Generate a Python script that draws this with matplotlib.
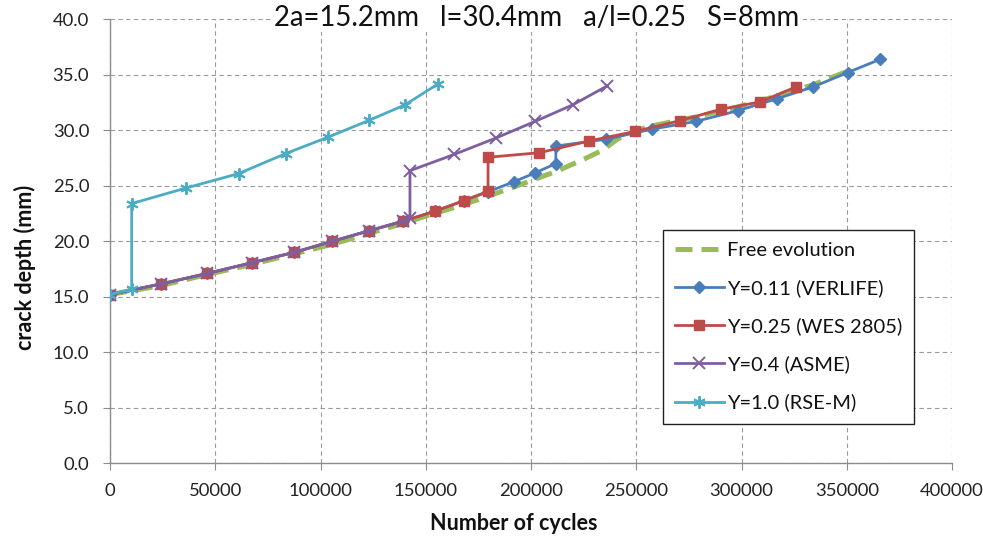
import matplotlib
matplotlib.use("Agg")
import matplotlib.pyplot as plt
from matplotlib.ticker import MultipleLocator, FormatStrFormatter

plt.rcParams['font.family'] = ['Lato', 'DejaVu Sans']

# ---- data ----
free_x = [0, 24000, 46000, 67000, 87000, 105000, 123000, 139000, 154000, 168000,
          180000, 192000, 202000, 212000, 224000, 234000, 241000, 250000, 260000,
          278000, 298000, 317000, 334000, 350000]
free_y = [15.2, 16.0, 17.0, 17.9, 18.85, 19.7, 20.7, 21.6, 22.5, 23.3,
          24.1, 24.9, 25.6, 26.3, 27.3, 28.2, 29.2, 30.0, 30.5,
          31.2, 32.1, 33.1, 34.1, 35.3]

verlife_x = [0, 24000, 46200, 67400, 87400, 105600, 123100, 139000, 154200, 168100,
             179600, 192000, 202100, 211800, 211800, 235800, 257400, 278300, 298300,
             317000, 333900, 350400, 365900]
verlife_y = [15.2, 16.15, 17.1, 18.07, 19.0, 20.0, 20.95, 21.8, 22.7, 23.66,
             24.47, 25.37, 26.18, 27.0, 28.58, 29.2, 30.1, 30.8, 31.77,
             32.85, 33.9, 35.2, 36.4]

wes_x = [0, 24000, 46200, 67400, 87400, 105600, 123100, 139000, 154200, 168100,
         179600, 179600, 204000, 227600, 249600, 270800, 290400, 308600, 325800]
wes_y = [15.2, 16.15, 17.1, 18.07, 19.0, 20.0, 20.95, 21.8, 22.7, 23.66,
         24.5, 27.57, 27.98, 29.04, 29.9, 30.87, 31.9, 32.55, 33.9]

asme_x = [0, 24000, 46200, 67400, 87400, 105600, 123100, 139000, 142500, 142500,
          163400, 183300, 201900, 219900, 236200]
asme_y = [15.2, 16.15, 17.1, 18.07, 19.0, 20.0, 20.95, 21.8, 22.07, 26.36,
          27.82, 29.3, 30.8, 32.3, 34.0]

rsem_x = [0, 10300, 10300, 36100, 61100, 83400, 103800, 123100, 140200, 156000]
rsem_y = [15.2, 15.7, 23.4, 24.8, 26.1, 27.9, 29.4, 30.9, 32.3, 34.2]

labels = ["Free evolution", "Y=0.11 (VERLIFE)", "Y=0.25 (WES 2805)",
          "Y=0.4 (ASME)", "Y=1.0 (RSE-M)"]
title = "2a=15.2mm   l=30.4mm   a/l=0.25   S=8mm"
xlabel = "Number of cycles"
ylabel = "crack depth (mm)"

# ---- figure ----
W, H = 983, 537
fig = plt.figure(figsize=(W / 100, H / 100), dpi=100)
ax = fig.add_axes([110 / W, 1 - 463.3 / H, 842 / W, 444 / H])

green = '#9BBB59'
blue = '#4A7EBB'
red = '#BE4B48'
purple = '#7D5FA0'
cyan = '#4BACC6'

ax.plot(free_x, free_y, color=green, lw=3.6, ls=(0, (3.4, 1.8)), label=labels[0], zorder=2)
ax.plot(verlife_x, verlife_y, color=blue, lw=2.0, marker='D', ms=6.5, label=labels[1], zorder=3)
ax.plot(wes_x, wes_y, color=red, lw=2.0, marker='s', ms=6.5, label=labels[2], zorder=4)
ax.plot(asme_x, asme_y, color=purple, lw=2.0, marker='x', ms=8, mew=1.4, label=labels[3], zorder=5)
ax.plot(rsem_x, rsem_y, color=cyan, lw=2.0, marker=(6, 2, 0), ms=9, mew=1.4, label=labels[4], zorder=6)

ax.set_xlim(0, 400000)
ax.set_ylim(0, 40)
ax.xaxis.set_major_locator(MultipleLocator(50000))
ax.yaxis.set_major_locator(MultipleLocator(5))
ax.yaxis.set_major_formatter(FormatStrFormatter('%.1f'))

ax.grid(True, color='#9a9a9a', ls=(0, (4, 3)), lw=0.8)
ax.set_axisbelow(True)
for s in ['top', 'right']:
    ax.spines[s].set_visible(False)
for s in ['left', 'bottom']:
    ax.spines[s].set_color('#8c8c8c')
    ax.spines[s].set_linewidth(1.0)
ax.tick_params(axis='both', direction='out', length=5, color='#8c8c8c',
               labelsize=13.3, labelcolor='#222222')
ax.tick_params(axis='x', pad=9)
ax.tick_params(axis='y', pad=10)

leg = ax.legend(loc='upper left', bbox_to_anchor=(0.657, 0.525), fontsize=14.5,
                frameon=True, fancybox=False, edgecolor='#222222', framealpha=1,
                handlelength=2.4, handletextpad=0.15, labelspacing=1.0,
                borderpad=0.6, borderaxespad=0)
leg.get_frame().set_linewidth(1.0)
for t in leg.get_texts():
    t.set_color('#111111')

fig.text(537 / W, 1 - 18 / H, title, ha='center', va='center', fontsize=19.8,
         color='#111111', bbox=dict(facecolor='white', edgecolor='none', pad=1))
fig.text(514 / W, 1 - 523 / H, xlabel, ha='center', va='center', fontsize=15.5,
         fontweight='bold', color='#111111')
fig.text(25 / W, 1 - 267 / H, ylabel, ha='center', va='center', fontsize=15.5,
         fontweight='bold', color='#111111', rotation=90)

fig.savefig('out.png', dpi=100)
